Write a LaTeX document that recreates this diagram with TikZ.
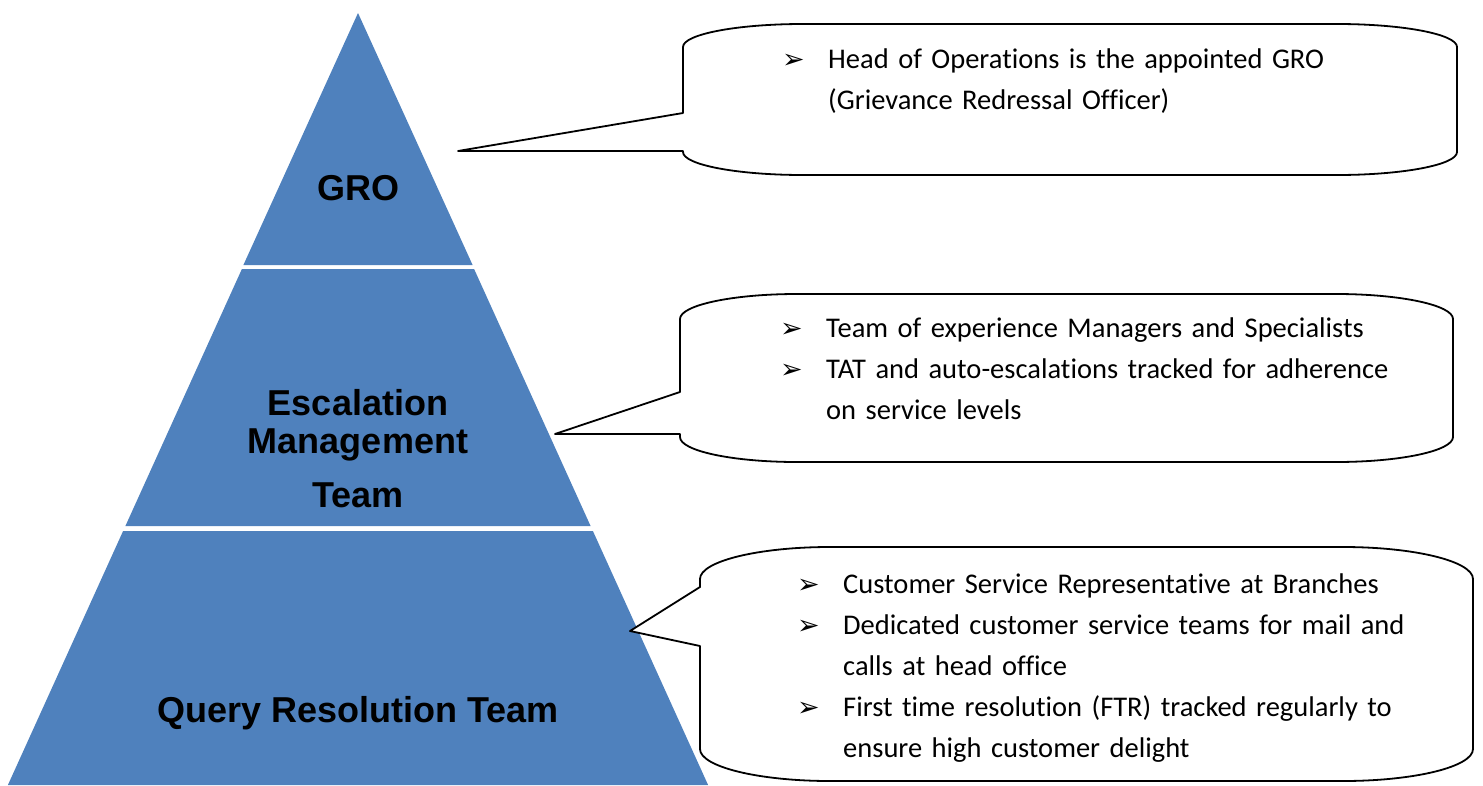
\documentclass[tikz,border=0pt]{standalone}
\usepackage{fontspec}
\setmainfont{Carlito}[Ligatures=NoCommon]
\newfontfamily\labfont{Liberation Sans}
\newfontfamily\dingfont{DejaVu Sans}
\usepackage{tikz}
\definecolor{pyrblue}{HTML}{4F81BD}
\newcommand{\bul}{\makebox[46pt][l]{\dingfont\fontsize{27}{27}\selectfont ➢}}
\newcommand{\gap}{\hspace*{46pt}}
\tikzset{
    tier/.style={fill=pyrblue},
    lab/.style={font=\labfont\bfseries\fontsize{36}{38}\selectfont, align=center, inner sep=0pt, anchor=base},
    bubble/.style={draw=black, fill=white, line width=1.8pt, line join=round},
    note/.style={font=\fontsize{28.5}{41}\selectfont, text width=700pt, align=left, inner sep=0pt, anchor=base west}
}

\begin{document}
\begin{tikzpicture}[x=1pt,y=-1pt]
    \useasboundingbox (0,0) rectangle (1483,785);
    \fill[tier] (358,13) -- (472.6,265) -- (243.4,265) -- cycle;
    \fill[tier] (241.9,269) -- (474.1,269) -- (590.6,526) -- (125.4,526) -- cycle;
    \fill[tier] (123.1,531) -- (592.9,531) -- (708.1,785) -- (7.9,785) -- cycle;
    \node[lab] (gro) at (358,200) {GRO};
    \node[lab] (esc) at (358,507) {Escalation\\Management\\[16pt]Team};
    \node[lab] (qrt) at (358,722) {Query Resolution Team};

    \draw[bubble, x radius=120, y radius=23] (683,113) -- (683,47)
        arc[start angle=180, end angle=270] -- (1337,24)
        arc[start angle=270, end angle=360] -- (1457,152)
        arc[start angle=0, end angle=90] -- (803,175)
        arc[start angle=90, end angle=180] -- (683,151) -- (458,151) -- cycle;
    \draw[bubble, x radius=117, y radius=25] (680,392) -- (680,319)
        arc[start angle=180, end angle=270] -- (1336,294)
        arc[start angle=270, end angle=360] -- (1453,437)
        arc[start angle=0, end angle=90] -- (797,462)
        arc[start angle=90, end angle=180] -- (680,434) -- (555,434) -- cycle;
    \draw[bubble, x radius=130, y radius=32] (700,587) -- (700,579)
        arc[start angle=180, end angle=270] -- (1343,547)
        arc[start angle=270, end angle=360] -- (1473,749)
        arc[start angle=0, end angle=90] -- (830,781)
        arc[start angle=90, end angle=180] -- (700,646) -- (630,631) -- cycle;

    \node[note] (gro note) at (782,68) {\bul Head of Operations is the appointed GRO\\
        \gap (Grievance Redressal Officer)};
    \node[note] (esc note) at (780,337) {\bul Team of experience Managers and Specialists\\
        \bul TAT and auto-escalations tracked for adherence\\
        \gap on service levels};
    \node[note] (qrt note) at (797,593) {\bul Customer Service Representative at Branches\\
        \bul Dedicated customer service teams for mail and\\
        \gap calls at head office\\
        \bul First time resolution (FTR) tracked regularly to\\
        \gap ensure high customer delight};
\end{tikzpicture}
\end{document}
